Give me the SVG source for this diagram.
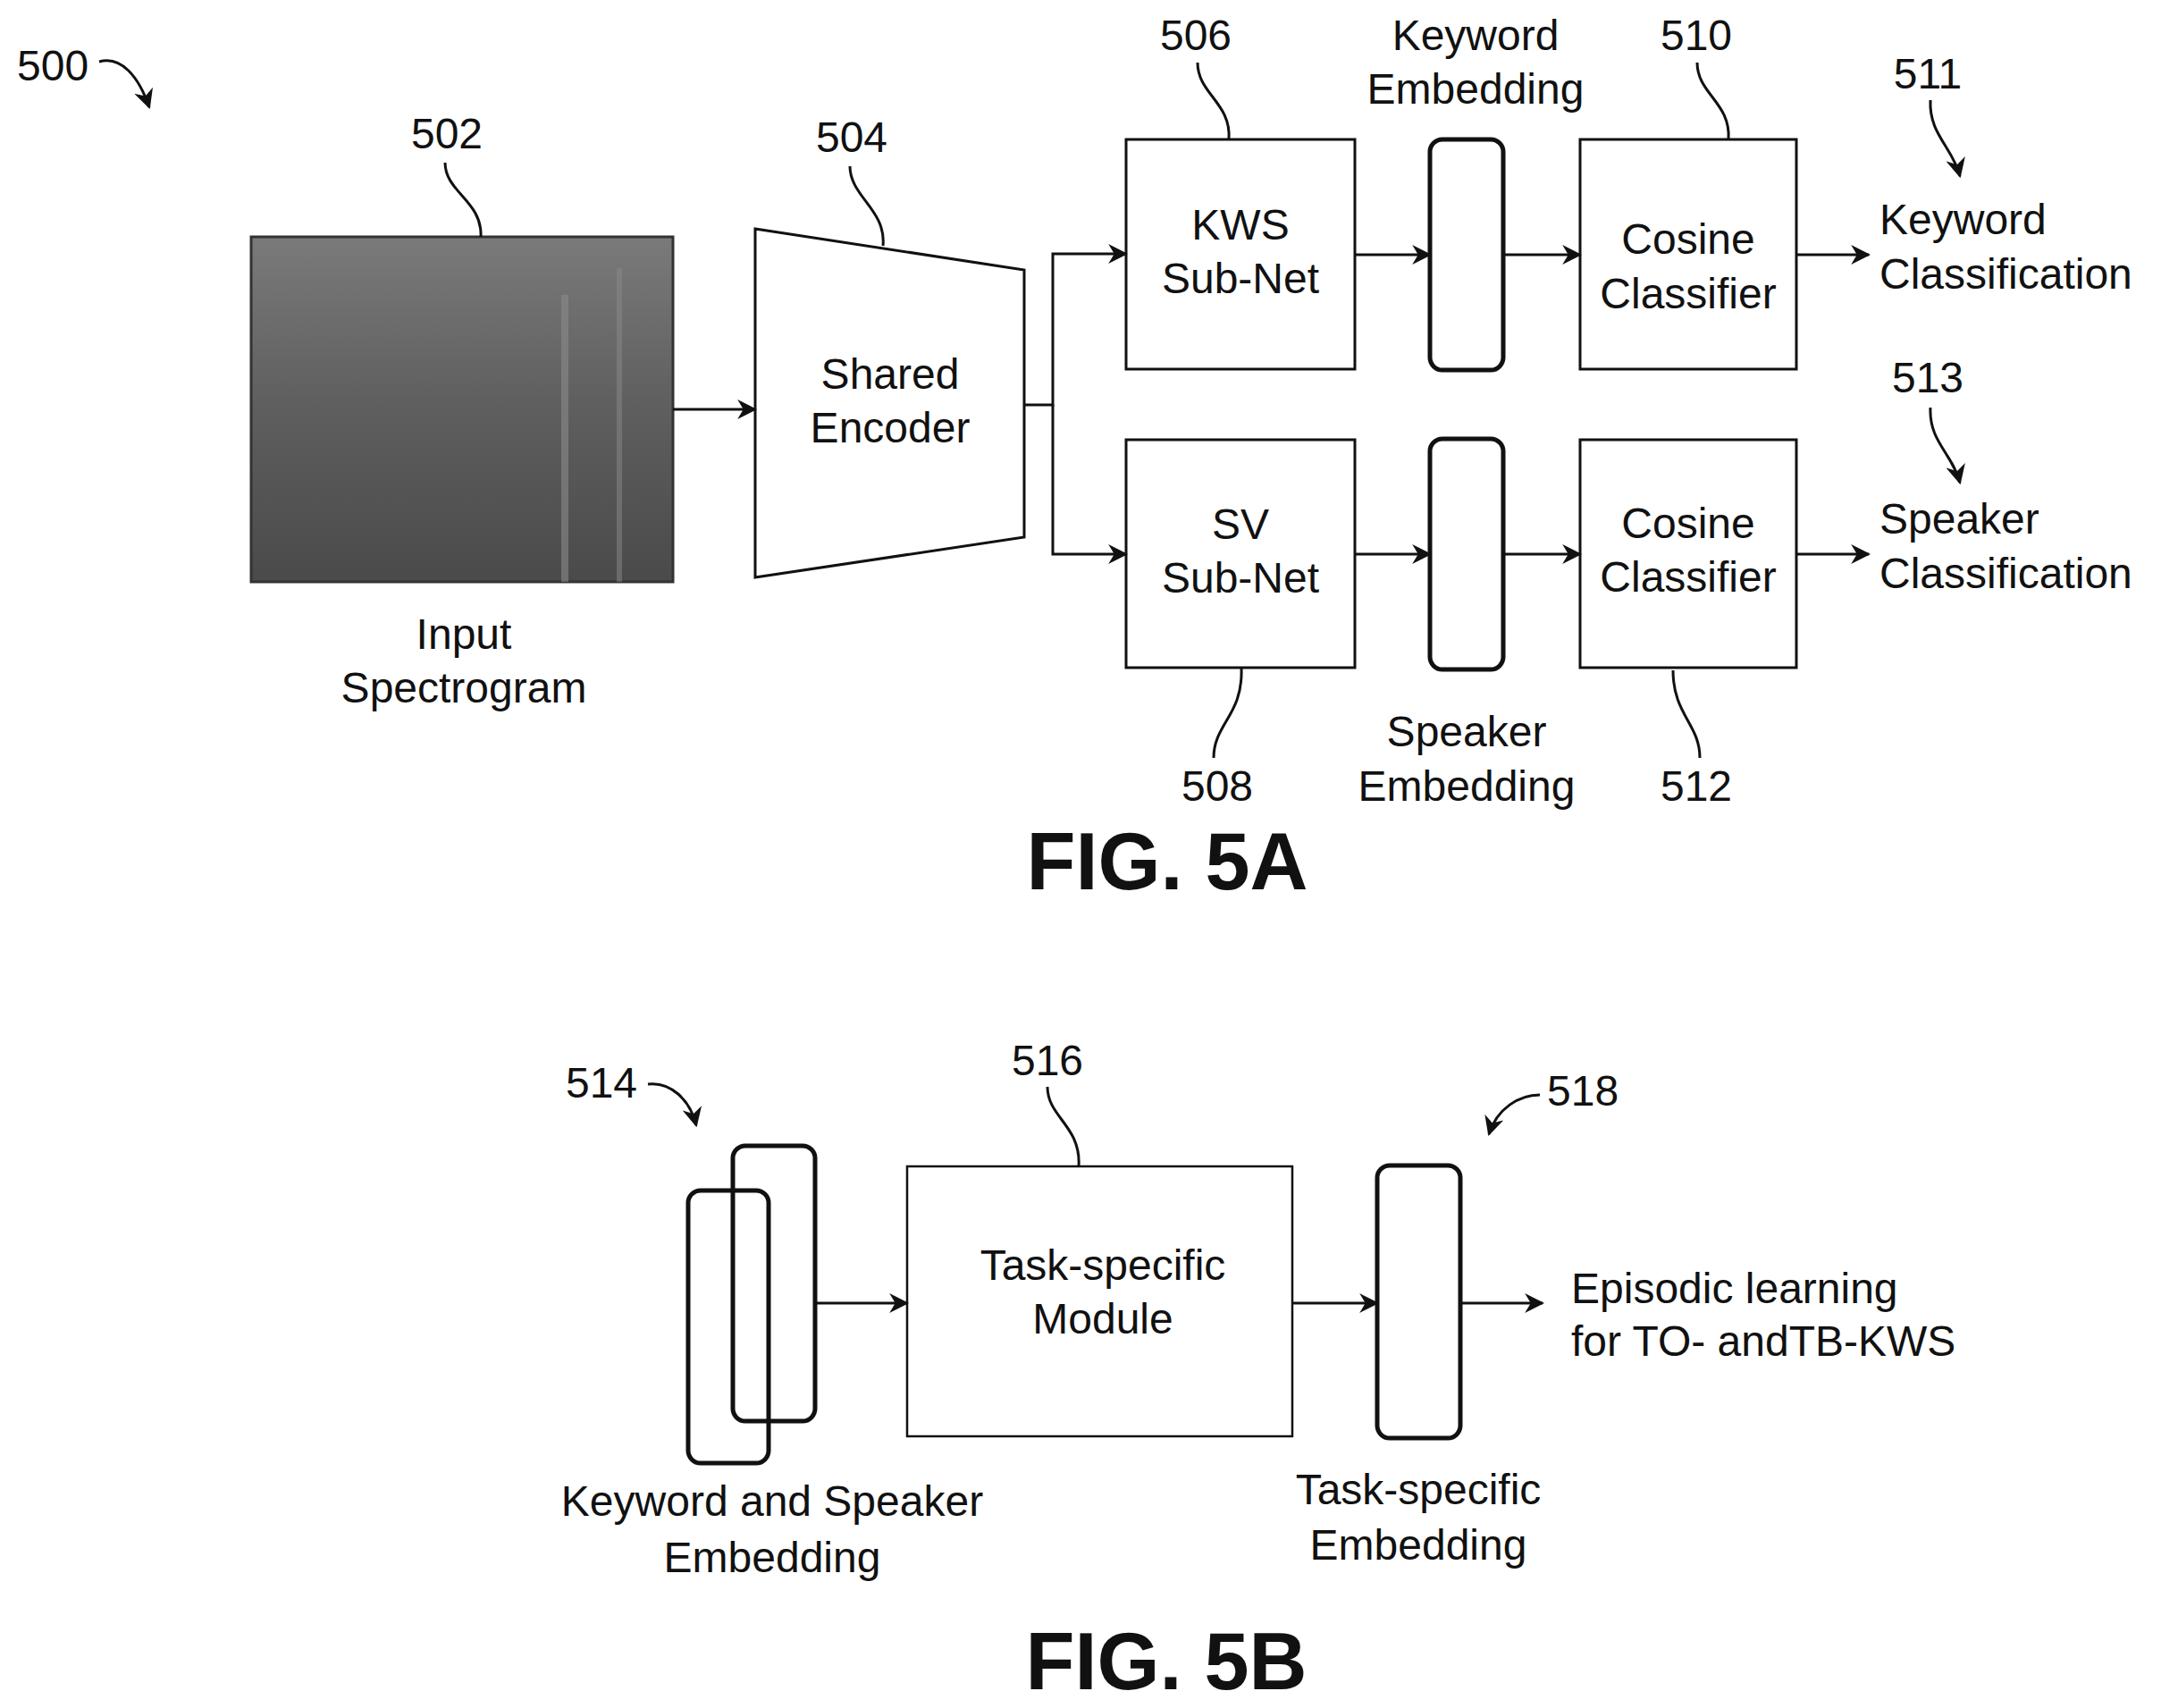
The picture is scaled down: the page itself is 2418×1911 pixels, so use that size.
<svg xmlns="http://www.w3.org/2000/svg" width="2418" height="1911" viewBox="0 0 2418 1911">
<style>
text{font-family:"Liberation Sans",Arial,sans-serif;font-size:48px;fill:#111}
.c{text-anchor:middle}
.box{fill:#fff;stroke:#111;stroke-width:3}
.pill{fill:none;stroke:#111;stroke-width:5}
.ln{fill:none;stroke:#111;stroke-width:3}
.fig{font-weight:bold;font-size:90px}
</style>
<defs>
<marker id="ah" viewBox="0 0 10 10" refX="9" refY="5" markerWidth="9" markerHeight="9" markerUnits="userSpaceOnUse" orient="auto"><path d="M0,0 L10,5 L0,10 L3,5 z" fill="#111"/></marker>
<marker id="ahb" viewBox="0 0 10 10" refX="9" refY="5" markerWidth="22" markerHeight="22" markerUnits="userSpaceOnUse" orient="auto"><path d="M0,0 L10,5 L0,10 L3,5 z" fill="#111"/></marker>
<linearGradient id="sg" x1="0" y1="0" x2="0" y2="1"><stop offset="0" stop-color="#7a7a7a"/><stop offset="0.5" stop-color="#5e5e5e"/><stop offset="1" stop-color="#4a4a4a"/></linearGradient>
</defs>
<style>.ar{fill:none;stroke:#111;stroke-width:3;marker-end:url(#ahb)}</style>

<g id="ref500"><text x="19" y="90">500</text><path class="ar" d="M111,69 C135,62 155,85 167,120"/></g>

<g id="n502">
<rect x="281" y="265" width="472" height="386" fill="url(#sg)" stroke="#333" stroke-width="3"/>
<rect x="628" y="330" width="8" height="321" fill="#8a8a8a" opacity="0.6"/>
<rect x="690" y="300" width="6" height="351" fill="#8a8a8a" opacity="0.5"/>
<text class="c" x="500" y="166">502</text>
<path class="ln" d="M538,265 C540,225 498,215 498,182"/>
<text class="c" x="519" y="726">Input</text><text class="c" x="519" y="786">Spectrogram</text>
</g>

<g id="n504">
<path class="box" d="M845,256 L1146,302 L1146,601 L845,646 Z"/>
<text class="c" x="996" y="435">Shared</text><text class="c" x="996" y="495">Encoder</text>
<text class="c" x="953" y="170">504</text>
<path class="ln" d="M988,275 C992,235 951,220 951,186"/>
</g>

<g id="n506"><rect class="box" x="1260" y="156" width="256" height="257"/>
<text class="c" x="1388" y="268">KWS</text><text class="c" x="1388" y="328">Sub-Net</text>
<text class="c" x="1338" y="56">506</text><path class="ln" d="M1375,156 C1378,115 1340,105 1340,70"/></g>

<g id="n508"><rect class="box" x="1260" y="492" width="256" height="255"/>
<text class="c" x="1388" y="603">SV</text><text class="c" x="1388" y="663">Sub-Net</text>
<text class="c" x="1362" y="896">508</text><path class="ln" d="M1389,748 C1391,800 1358,810 1358,848"/></g>

<g id="kwEmb"><rect class="pill" x="1600" y="156" width="82" height="258" rx="14"/>
<text class="c" x="1651" y="56">Keyword</text><text class="c" x="1651" y="116">Embedding</text></g>

<g id="spkEmb"><rect class="pill" x="1600" y="491" width="82" height="258" rx="14"/>
<text class="c" x="1641" y="835">Speaker</text><text class="c" x="1641" y="896">Embedding</text></g>

<g id="n510"><rect class="box" x="1768" y="156" width="242" height="257"/>
<text class="c" x="1889" y="284">Cosine</text><text class="c" x="1889" y="345">Classifier</text>
<text class="c" x="1898" y="56">510</text><path class="ln" d="M1934,156 C1937,115 1899,105 1899,70"/></g>

<g id="n512"><rect class="box" x="1768" y="492" width="242" height="255"/>
<text class="c" x="1889" y="602">Cosine</text><text class="c" x="1889" y="662">Classifier</text>
<text class="c" x="1898" y="896">512</text><path class="ln" d="M1872,750 C1872,800 1902,810 1902,848"/></g>

<g id="n511"><text x="2103" y="262">Keyword</text><text x="2103" y="323">Classification</text>
<text class="c" x="2157" y="99">511</text><path class="ar" d="M2160,112 C2158,150 2185,165 2193,197"/></g>

<g id="n513"><text x="2103" y="597">Speaker</text><text x="2103" y="658">Classification</text>
<text class="c" x="2157" y="439">513</text><path class="ar" d="M2160,456 C2158,494 2185,508 2193,540"/></g>

<text class="fig c" x="1306" y="995">FIG. 5A</text>

<g id="n514">
<rect class="pill" x="770" y="1332" width="90" height="305" rx="14"/>
<rect class="pill" x="820" y="1282" width="92" height="308" rx="14"/>
<text class="c" x="673" y="1228">514</text><path class="ar" d="M725,1213 C750,1210 772,1230 779,1259"/>
<text class="c" x="864" y="1696">Keyword and Speaker</text><text class="c" x="864" y="1759">Embedding</text>
</g>

<g id="n516"><rect class="box" x="1015" y="1305" width="431" height="302" style="stroke-width:2.5"/>
<text class="c" x="1234" y="1432">Task-specific</text><text class="c" x="1234" y="1492">Module</text>
<text class="c" x="1172" y="1203">516</text><path class="ln" d="M1207,1305 C1210,1260 1172,1250 1172,1216"/></g>

<g id="n518"><rect class="pill" x="1541" y="1304" width="93" height="305" rx="14"/>
<text x="1731" y="1237">518</text><path class="ar" d="M1723,1225 C1700,1225 1675,1240 1666,1269"/>
<text class="c" x="1587" y="1683">Task-specific</text><text class="c" x="1587" y="1745">Embedding</text></g>

<g id="out"><text x="1758" y="1458">Episodic learning</text><text x="1758" y="1517">for TO- andTB-KWS</text></g>

<text class="fig c" x="1305" y="1890">FIG. 5B</text>

<g id="connectors" fill="none" stroke="#111" stroke-width="3">
<path d="M753,458 L845,458" marker-end="url(#ahb)"/>
<path d="M1146,453 L1178,453 L1178,284 L1260,284" marker-end="url(#ahb)"/>
<path d="M1178,453 L1178,620 L1260,620" marker-end="url(#ahb)"/>
<path d="M1516,285 L1600,285" marker-end="url(#ahb)"/>
<path d="M1682,285 L1768,285" marker-end="url(#ahb)"/>
<path d="M2010,285 L2091,285" marker-end="url(#ahb)"/>
<path d="M1516,620 L1600,620" marker-end="url(#ahb)"/>
<path d="M1682,620 L1768,620" marker-end="url(#ahb)"/>
<path d="M2010,620 L2091,620" marker-end="url(#ahb)"/>
<path d="M912,1458 L1015,1458" marker-end="url(#ahb)"/>
<path d="M1446,1458 L1541,1458" marker-end="url(#ahb)"/>
<path d="M1634,1458 L1726,1458" marker-end="url(#ahb)"/>
</g>
</svg>
